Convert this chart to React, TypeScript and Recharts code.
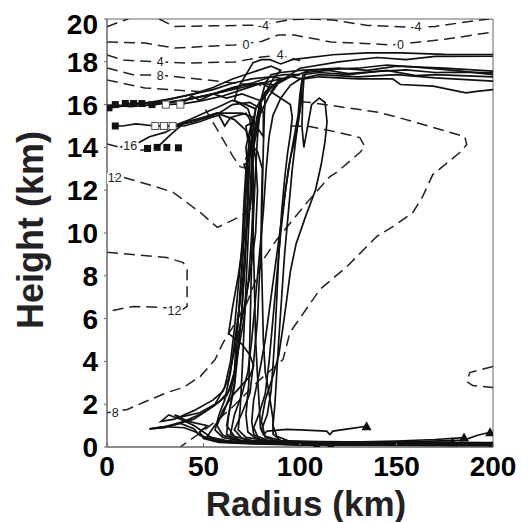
import React from "react";
import { ComposedChart, Line, Scatter, XAxis, YAxis, ReferenceArea, Label } from "recharts";

type Pt = [number, number];

const radiusTicks = [0, 50, 100, 150, 200];
const heightTicks = [0, 2, 4, 6, 8, 10, 12, 14, 16, 18, 20];

// dashed contours (r km, z km)
const contourM4a: Pt[] = [[0, 19.63], [6, 19.85], [11, 20]];
const contourM4b: Pt[] = [[27, 20], [35, 19.65], [55, 19.68], [80, 19.72], [95, 19.97], [105, 20], [117, 19.95], [135, 19.7], [157, 19.62], [170, 19.65], [185, 19.85], [198, 20]];
const contour0: Pt[] = [[0, 18.93], [19.6, 18.88], [35, 18.64], [66, 18.79], [80, 18.95], [88.7, 19.25], [97, 19.25], [116, 18.93], [148, 18.79], [175, 19.05], [200, 19.39]];
const contour4: Pt[] = [[0, 18.32], [8.5, 18.08], [27, 17.99], [42, 17.94], [66, 17.99], [80, 18.22], [90, 18.3], [100, 18.05]];
const contour8: Pt[] = [[0, 17.71], [14, 17.38], [27, 17.38], [52, 17.15], [66, 17.0], [80, 16.9]];
const contour12top: Pt[] = [[0, 17.15], [19.6, 16.78], [35, 16.68], [50, 16.6]];
const contour16: Pt[] = [[0, 14.16], [7, 14.0], [15, 13.85], [25, 13.95]];
const contour12: Pt[] = [[0, 12.6], [8.4, 12.6], [24, 12.2], [34.3, 11.9], [48.3, 10.96], [57.2, 10.26], [69, 10.77], [75.7, 11.24], [74, 12.97], [69, 13.1], [65.3, 13.57], [55, 15.16], [51, 15.77]];
const contourOuter: Pt[] = [[100, 16.15], [105.2, 16.1], [141.4, 15.63], [158.5, 15.21], [185.4, 14.5], [186.4, 14.13], [182.8, 13.76], [168.8, 12.73], [163.6, 11.71], [158.5, 10.96], [148.1, 10.3], [139.8, 9.84], [124.3, 8.43], [110.3, 7.36], [94.8, 5.35], [91.2, 4.09], [79.3, 3.15], [63.8, 1.75], [50.9, 0.82], [37.9, 0]];
const contour8low: Pt[] = [[95, 15.0], [105, 14.98], [120, 14.7], [131, 14.46], [133.6, 14.04], [131, 13.76], [119, 12.83], [115.5, 12.64], [103.6, 11.42], [88, 9.7], [81, 8.76], [77.8, 7.97], [72.6, 6.75], [65.3, 5.63], [60.2, 4.88], [56, 4.09], [48.3, 3.29], [39.5, 2.78], [31.2, 2.55], [18.8, 2.08], [10.5, 1.75], [0, 1.6]];
const contour12box: Pt[] = [[0, 9.1], [31, 8.85], [39.5, 8.62], [41.5, 8.29], [41.5, 6.57], [39, 6.42], [29, 6.52], [13.6, 6.57], [0, 6.33]];
const contourEdge: Pt[] = [[200, 3.76], [188, 3.48], [186.4, 3.06], [189.5, 2.87], [200, 2.78]];

const contours = [contourM4a, contourM4b, contour0, contour4, contour8, contour12top, contour16, contour12, contourOuter, contour8low, contour12box, contourEdge];

const contourLabelText = ["-4", "-4", "0", "0", "4", "4", "8", "16", "12", "12", "8"];
const contourLabelR = [81, 160, 72, 152, 27.6, 89.7, 27.6, 12, 4, 35, 4.3];
const contourLabelZ = [19.7, 19.63, 18.79, 18.79, 18.02, 18.32, 17.36, 14.07, 12.6, 6.35, 1.6];

// trajectories
const trajL1: Pt[] = [[108.6, 0.07], [95, 0.12], [80, 0.18], [68, 0.3], [62, 0.6], [63, 1.5], [66, 2.8], [68, 4.5], [70, 6.5], [71.5, 8.5], [72.5, 10.5], [73.5, 12.5], [74, 13.5], [76, 14.5], [78.5, 15.6], [79.5, 16.1], [84, 16.8], [80, 17.0], [70, 16.7], [60, 16.4], [50, 16.2], [40, 16.05], [30.5, 16.0]];
const trajL2: Pt[] = [[116, 0.07], [100, 0.1], [85, 0.14], [72, 0.2], [58, 0.3], [52, 0.5], [55, 0.9], [60, 1.5], [64, 2.5], [67, 4], [69.5, 6], [71, 8], [72, 10], [73, 12], [73.5, 13], [72, 13.5], [74, 13.8], [77, 14.5], [79, 15.6], [80, 16.2], [86, 16.9], [92, 17.2], [85, 17.3], [75, 17.0], [65, 16.8], [55, 16.5], [45, 16.3], [35, 16.15], [23.5, 16.05], [18.1, 16.05]];
const trajL3: Pt[] = [[179, 0.22], [160, 0.2], [130, 0.18], [100, 0.15], [80, 0.16], [65, 0.2], [55, 0.3], [48, 0.55], [45, 0.85], [38, 1.1], [30, 0.95], [22, 0.85], [28, 0.9], [40, 1.2], [50, 1.6], [58, 2.1], [63, 2.6], [66, 3.5], [67, 5], [69, 7], [70.5, 9], [71.5, 11], [72.5, 12.8], [71, 13.2], [73, 13.3], [74.5, 14], [76, 15], [77, 15.8], [72, 16.0], [65, 16.2], [58, 15.9], [50, 15.6], [43, 15.3], [34, 15.0]];
const trajL4: Pt[] = [[185, 0.44], [170, 0.35], [150, 0.28], [120, 0.22], [95, 0.2], [75, 0.22], [62, 0.3], [54, 0.45], [50, 0.7], [45, 1.0], [38, 1.3], [32, 1.5], [28, 1.2], [35, 1.3], [45, 1.7], [55, 2.2], [60, 2.6], [63, 3.2], [66, 4.5], [70, 6], [74, 8], [77, 10], [78, 12], [77, 13.5], [75, 14.5], [74, 15.3], [72, 15.6], [64, 15.4], [61, 15.0], [58, 15.5], [54, 15.4], [48, 15.2], [40, 15.0], [29.5, 15.0], [25, 15.0]];
const trajL5: Pt[] = [[198.5, 0.69], [192, 0.55], [185, 0.32], [160, 0.25], [130, 0.2], [100, 0.18], [80, 0.2], [68, 0.3], [60, 0.45], [56, 0.8], [58, 1.5], [61, 2.2], [64, 3.5], [67, 5.5], [70, 7.5], [72, 9.5], [73, 11.5], [73, 13], [72, 14], [74, 14.8], [76, 15.4], [70, 15.6], [62, 15.6], [57, 15.6], [50, 15.4], [40, 15.15], [33, 14.6], [26, 14.0]];
const trajL6: Pt[] = [[134.5, 0.97], [125, 0.85], [117, 0.74], [115.5, 0.58], [113.8, 0.74], [100, 0.8], [93, 0.82], [83, 0.74], [81, 0.58], [79.5, 0.9], [79, 1.75], [78, 3.3], [77, 5], [76.5, 7], [76, 9], [75.5, 11], [75, 13], [76, 14.5], [78, 15.5], [80, 16.3], [82, 17], [85, 17.4], [90, 17.5], [100, 17.6], [120, 17.7], [135, 17.6], [150, 17.8], [175, 17.7], [200, 17.56]];
const trajL7: Pt[] = [[200, 0.14], [140, 0.15], [100, 0.17], [80, 0.2], [70, 0.4], [66, 0.8], [70, 1.6], [74, 2.5], [76, 4], [78, 6], [79, 8], [80, 10], [80.5, 12], [81, 14], [81.5, 15.5], [82, 16.5], [86, 17.2], [90, 17.6], [85, 17.8], [75, 17.5], [65, 17.2], [55, 16.8], [45, 16.5], [35, 16.3], [25, 16.1], [14, 16.05], [9.5, 16.05]];
const trajL8: Pt[] = [[200, 0.06], [150, 0.07], [100, 0.1], [75, 0.15], [58, 0.22], [50, 0.4], [48, 0.7], [52, 1.0], [42, 1.2], [35, 1.5], [38, 1.4], [48, 1.6], [56, 2], [61, 2.8], [64, 4], [66, 5.5], [68, 7.5], [70, 9.5], [71, 11.5], [72, 13], [74, 14.5], [77, 15.8], [82, 16.6], [90, 17.2], [95, 17.3], [85, 17.1], [70, 16.8], [55, 16.5], [40, 16.2], [25, 16.0], [12, 15.9], [4.3, 16.0]];
const trajL9: Pt[] = [[200, 0.11], [150, 0.13], [110, 0.15], [85, 0.2], [70, 0.3], [60, 0.55], [57, 1], [60, 1.7], [65, 2.4], [70, 2.9], [74, 3.3], [76, 3.8], [74, 4.3], [70, 4.8], [66, 5.1], [63, 5.3], [65, 6.5], [68, 8], [70.5, 9.5], [73, 10.5], [74.5, 11.5], [75.5, 12.8], [76, 14], [78, 15], [80, 15.8], [74, 16.1], [65, 16.0], [58, 15.6], [52, 15.4], [45, 15.2], [35, 15.0], [25, 15.0], [15, 15.1], [8, 15.0], [4.3, 15.0]];
const trajL10: Pt[] = [[200, 0.09], [150, 0.1], [100, 0.12], [70, 0.2], [56, 0.3], [50, 0.5], [46, 0.7], [40, 0.9], [30, 0.95], [22, 0.85], [30, 0.9], [45, 1.3], [55, 1.9], [62, 2.4], [65, 3], [68, 4.5], [71, 6], [73.5, 8], [75, 10], [76, 12], [75.5, 13.3], [74, 14.2], [72, 14.8], [66, 15.3], [57, 15.6], [48, 15.35], [40, 15.15], [30, 14.7], [22, 14.5], [14, 14.1], [10, 13.9], [12, 14.2], [7, 14.0]];
const trajL11: Pt[] = [[200, 0.13], [150, 0.15], [110, 0.17], [88, 0.2], [78, 0.35], [73, 0.7], [72, 1.5], [73.5, 3], [74, 5], [74.5, 7], [75, 9], [76, 11], [77, 13], [78, 14.5], [79, 15.5], [84, 16.4], [88, 16.9], [80, 17.0], [70, 16.9], [60, 16.6], [50, 16.4], [40, 16.2], [30, 16.1], [20, 16.05], [13.8, 16.05]];
const trajL12: Pt[] = [[200, 0.16], [160, 0.17], [120, 0.19], [100, 0.22], [90, 0.3], [86, 0.6], [86, 1.3], [84, 2.5], [82, 3.5], [81, 5], [80.5, 7], [80, 9], [80, 11], [80.5, 13], [78, 13.8], [73, 14.3], [72, 15], [76, 15.2], [81, 14.5], [81, 15.6], [79, 16.2], [70, 16.5], [62, 16.3], [55, 16.5], [48, 16.2], [44, 16.4], [38, 16.0]];
const trajL13: Pt[] = [[200, 0.19], [150, 0.2], [110, 0.22], [85, 0.28], [72, 0.45], [68, 0.8], [69, 1.8], [70, 3.5], [71, 5.5], [72, 7.5], [73, 9.5], [74, 11.5], [75, 13.5], [77, 15], [79, 16], [85, 16.8], [95, 17.3], [100, 17.4], [92, 17.4], [85, 17.3], [75, 17.2], [65, 17.0], [55, 16.7], [45, 16.5], [35, 16.3], [22, 16.1], [10, 15.95], [1, 15.85]];
const trajR1: Pt[] = [[200, 0.12], [170, 0.14], [140, 0.16], [110, 0.18], [95, 0.25], [88, 0.5], [86, 1], [87, 2], [88, 3.5], [89, 5], [90.5, 7], [92, 9], [94, 11], [96, 13], [98, 14.5], [100, 15.8], [101, 17], [103, 17.5], [115, 17.6], [125, 17.45], [140, 17.55], [155, 17.62], [170, 17.5], [185, 17.52], [200, 17.48]];
const trajR2: Pt[] = [[200, 0.08], [160, 0.1], [120, 0.12], [90, 0.2], [80, 0.3], [76, 0.6], [75, 1.2], [76, 2.2], [79, 3.5], [82, 5], [85, 7], [88, 9], [91, 11], [94, 13], [97, 14.5], [99, 15.5], [100, 16.5], [101.5, 17.4], [110, 17.5], [125, 17.4], [145, 17.6], [160, 17.35], [170, 17.4], [200, 17.3]];
const trajR3: Pt[] = [[200, 0.15], [150, 0.15], [100, 0.17], [85, 0.25], [78, 0.5], [76, 0.9], [79, 1.6], [82, 2.5], [84, 4], [86, 6], [88, 8], [90, 10], [92.5, 12], [95, 13.5], [98, 14.6], [100.5, 16], [101, 17.2], [96, 17.3], [105, 17.6], [130, 17.7], [145, 17.85], [160, 17.75], [180, 17.6], [200, 17.4]];
const trajR4: Pt[] = [[200, 0.05], [170, 0.08], [140, 0.1], [110, 0.13], [90, 0.2], [82, 0.45], [80, 1.2], [82, 2.2], [86, 3.3], [89, 4.3], [91, 5.5], [93, 6.8], [95, 8.2], [98, 9.5], [103, 10.8], [108, 12], [111, 13.2], [113, 14.3], [114, 15.2], [113, 16.1], [110, 16.3], [106, 16], [104, 15], [102, 14], [101, 15], [101.5, 16.5], [102, 17.2], [110, 17.3], [130, 17.2], [148, 17.2], [152, 16.94], [169, 16.86], [186, 16.55], [191.5, 16.62], [200, 16.7]];
const trajR5: Pt[] = [[200, 0.2], [150, 0.22], [110, 0.25], [90, 0.3], [82, 0.5], [80, 0.8], [83, 1.5], [85, 2.6], [86, 3.8], [87, 5.2], [88, 7], [89, 9], [90.5, 11], [92, 12.5], [93.5, 13.7], [95, 14.6], [96, 15.4], [95, 16], [90, 16.3], [85, 16.6], [88, 17.0], [95, 17.4], [100, 17.7], [120, 18.0], [140, 18.2], [155, 18.1], [170, 18.25], [200, 18.26]];
const trajR6: Pt[] = [[200, 0.18], [160, 0.2], [120, 0.22], [95, 0.24], [75, 0.3], [66, 0.5], [62, 1], [64, 2], [66, 3], [67, 4.5], [68, 6], [69.5, 8], [71, 10], [72, 12], [72.5, 13], [74, 14], [76, 15], [73, 15.8], [66, 16.2], [68, 16.8], [72, 17.4], [75.7, 17.96], [80, 18.1], [84.5, 18.1], [90, 17.9], [96, 18.1], [117, 18.33], [134.5, 18.42], [151.7, 18.42], [175, 18.35], [200, 18.34]];
const trajR7: Pt[] = [[200, 0.1], [150, 0.12], [100, 0.15], [70, 0.25], [64, 0.6], [66, 1.5], [70, 2.5], [73, 3.5], [75, 5], [77, 7], [79, 9], [81, 11], [82.5, 13], [84, 14.5], [86, 15.5], [90, 16.3], [95, 16.9], [100, 17.2], [110, 17.4], [130, 17.3], [150, 17.4], [170, 17.25], [200, 17.1]];

const trajectories = [trajL1, trajL2, trajL3, trajL4, trajL5, trajL6, trajL7, trajL8, trajL9, trajL10, trajL11, trajL12, trajL13, trajR1, trajR2, trajR3, trajR4, trajR5, trajR6, trajR7];

// markers
const filledSquareR = [1, 4.3, 9.5, 13.8, 18.1, 23.3, 4.3, 21, 26, 31, 37];
const filledSquareZ = [15.85, 16.0, 16.05, 16.05, 16.05, 16.0, 15.0, 13.95, 14.0, 14.0, 13.98];
const openSquareR = [30.5, 38, 25, 29.5, 34];
const openSquareZ = [16.0, 16.0, 15.0, 15.0, 15.0];
const triangleR = [108.6, 116, 134.5, 179, 185, 198.5, 199.7];
const triangleZ = [0.07, 0.07, 0.97, 0.22, 0.44, 0.69, 0.04];

const toRows = (pts: Pt[]) => pts.map(([r, z]) => ({ r, z }));
const zipRows = (rs: number[], zs: number[]) => rs.map((r, i) => ({ r, z: zs[i] }));

const FONT = "'Liberation Sans', Arial, sans-serif";
const AXIS = "#666";

const RadiusTick = (p: any) => (
  <g>
    <line x1={p.x} x2={p.x} y1={p.y - 9} y2={p.y - 13} stroke={AXIS} />
    <text x={p.x} y={p.y} dy="0.71em" textAnchor="middle" fontSize={28} fontWeight={700} fontFamily={FONT} fill="#000">
      {p.payload.value}
    </text>
  </g>
);

const FilledSquare = (p: any) => <rect x={p.cx - 3.5} y={p.cy - 3.5} width={7} height={7} fill="#111" />;
const OpenSquare = (p: any) => <rect x={p.cx - 3.5} y={p.cy - 3.5} width={7} height={7} fill="#fff" stroke="#555" strokeWidth={1} />;
const Triangle = (p: any) => (
  <polygon points={`${p.cx},${p.cy - 5} ${p.cx + 5},${p.cy + 4} ${p.cx - 5},${p.cy + 4}`} fill="#111" />
);
const ContourText = (p: any) => (
  <text x={p.cx} y={p.cy} dy="0.35em" textAnchor="middle" fontSize={12.5} fontFamily={FONT} fill="#222"
    stroke="#fff" strokeWidth={4} paintOrder="stroke">
    {p.payload?.text ?? p.text}
  </text>
);

export default function App() {
  const labelRows = contourLabelR.map((r, i) => ({ r, z: contourLabelZ[i], text: contourLabelText[i] }));
  return (
    <div style={{ width: 524, height: 514 }}>
      <ComposedChart width={524} height={514} margin={{ top: 11, right: 39, bottom: 1, left: 0 }}>
        <XAxis type="number" dataKey="r" domain={[0, 200]} ticks={radiusTicks} allowDataOverflow
          height={74} tickSize={0} tickMargin={9} tickLine={false} axisLine={{ stroke: AXIS }} tick={<RadiusTick />}>
          <Label content={() => (
            <text x={298} y={508} textAnchor="middle" fontSize={35} fontWeight={700} fontFamily={FONT} fill="#222">Radius (km)</text>
          )} />
        </XAxis>
        <YAxis type="number" dataKey="z" domain={[0, 20]} ticks={heightTicks} allowDataOverflow width={99}
          tickSize={3} tickMargin={6} tickLine={{ stroke: AXIS }} axisLine={{ stroke: AXIS }}
          tick={{ fontSize: 28, fontWeight: 700, fontFamily: FONT, fill: "#000" }}>
          <Label content={() => (
            <text x={35} y={222} transform="rotate(-90 35 222)" textAnchor="middle" fontSize={36} fontWeight={700} fontFamily={FONT} fill="#222">Height (km)</text>
          )} />
        </YAxis>
        <ReferenceArea x1={0} x2={200} y1={0} y2={20} fill="none" stroke={AXIS} strokeWidth={1} />
        {contours.map((c, i) => (
          <Line key={`c${i}`} data={toRows(c)} dataKey="z" type="linear" stroke="#222" strokeWidth={1.5}
            strokeDasharray="11 6" dot={false} activeDot={false} isAnimationActive={false} />
        ))}
        <Scatter data={labelRows} shape={<ContourText />} isAnimationActive={false} />
        {trajectories.map((t, i) => (
          <Line key={`t${i}`} data={toRows(t)} dataKey="z" type="linear" stroke="#111" strokeWidth={1.7}
            dot={false} activeDot={false} isAnimationActive={false} />
        ))}
        <Scatter data={zipRows(filledSquareR, filledSquareZ)} shape={<FilledSquare />} isAnimationActive={false} />
        <Scatter data={zipRows(openSquareR, openSquareZ)} shape={<OpenSquare />} isAnimationActive={false} />
        <Scatter data={zipRows(triangleR, triangleZ)} shape={<Triangle />} isAnimationActive={false} />
      </ComposedChart>
    </div>
  );
}
